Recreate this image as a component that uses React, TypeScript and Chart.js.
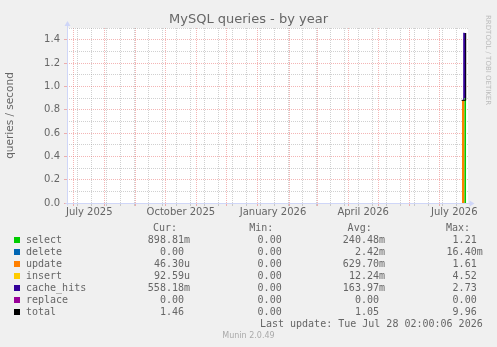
import React, { useEffect, useRef } from "react";
import { Chart, registerables } from "chart.js";

Chart.register(...registerables);

// ---------- data ----------
const chartTitle = "MySQL queries - by year";
const yAxisTitle = "queries / second";

const seriesNames = ["select", "delete", "update", "insert", "cache_hits", "replace"];
const seriesColors = ["#00CC00", "#0066B3", "#FF8000", "#FFCC00", "#330099", "#990099"];
const totalName = "total";
const totalColor = "#000000";

// x = days since 2025-07-01
const sampleDays = [387.6, 388.9, 390.2, 391.9];
const selectValues = [0, 0, 0.899, 0.899];
const deleteValues = [0, 0, 0, 0];
const updateValues = [0.88, 0.88, 0, 0];
const insertValues = [0, 0, 0, 0];
const cacheHitsValues = [0, 0.58, 0.558, 0.558];
const replaceValues = [0, 0, 0, 0];

const totalDays = [387.3, 391.4];
const totalValues = [0.88, 1.457];

// axis
const xMin = -6.7;
const xMax = 393.7;
const yMin = 0;
const yMax = 1.5;
const yStep = 0.1;
const monthStartDays = [0, 31, 62, 92, 123, 153, 184, 215, 243, 274, 304, 335, 365];
const minorGridDays = [
  4.25, 18.25, 32.25, 46.25, 60.25, 74.25, 88.25, 102.25, 116.25, 130.25, 144.25, 158.25,
  172.25, 186.25, 200.25, 214.25, 228.25, 242.25, 256.25, 270.25, 284.25, 298.25, 312.25,
  326.25, 340.25, 354.25, 368.25, 382.25,
];
const xLabelDays = [15.5, 107, 199, 289, 380];
const xLabels = ["July 2025", "October 2025", "January 2026", "April 2026", "July 2026"];

// legend table
const legendNames = ["select", "delete", "update", "insert", "cache_hits", "replace", "total"];
const legendCur = ["898.81m", "0.00", "46.30u", "92.59u", "558.18m", "0.00", "1.46"];
const legendMin = ["0.00", "0.00", "0.00", "0.00", "0.00", "0.00", "0.00"];
const legendAvg = ["240.48m", "2.42m", "629.70m", "12.24m", "163.97m", "0.00", "1.05"];
const legendMax = ["1.21", "16.40m", "1.61", "4.52", "2.73", "0.00", "9.96"];
const legendHeaders = ["Cur:", "Min:", "Avg:", "Max:"];
const lastUpdate = "Last update: Tue Jul 28 02:00:06 2026";
const muninVersion = "Munin 2.0.49";
const watermark = "RRDTOOL / TOBI OETIKER";

// ---------- style ----------
const FONT_COLOR = "#666666";
const AXIS_COLOR = "#CFD6F8";
const GRID_GRAY = "rgba(150,150,150,0.45)";
const GRID_RED = "rgba(230,90,90,0.45)";
const TRANSPARENT = "rgba(0,0,0,0)";

const monthSet = new Set(monthStartDays);
const minorSet = new Set(minorGridDays);

const muninPlugin = {
  id: "muninDecor",
  beforeDraw(chart: any) {
    const { ctx, chartArea: a } = chart;
    ctx.save();
    ctx.fillStyle = "#FFFFFF";
    ctx.fillRect(a.left, a.top, a.right - a.left, a.bottom - a.top);
    ctx.restore();
  },
  afterDraw(chart: any) {
    const { ctx, chartArea: a } = chart;
    ctx.save();
    ctx.strokeStyle = AXIS_COLOR;
    ctx.fillStyle = AXIS_COLOR;
    ctx.lineWidth = 1;
    const ax = Math.round(a.left) + 0.5;
    const ay = Math.round(a.bottom) + 0.5;
    ctx.beginPath();
    ctx.moveTo(ax, ay + 2);
    ctx.lineTo(ax, a.top - 2);
    ctx.moveTo(ax - 2, ay);
    ctx.lineTo(a.right + 2, ay);
    ctx.stroke();
    // up arrow
    ctx.beginPath();
    ctx.moveTo(ax, a.top - 7);
    ctx.lineTo(ax - 3, a.top - 2);
    ctx.lineTo(ax + 3, a.top - 2);
    ctx.closePath();
    ctx.fill();
    // right arrow
    ctx.beginPath();
    ctx.moveTo(a.right + 6.5, ay);
    ctx.lineTo(a.right + 1.5, ay - 3);
    ctx.lineTo(a.right + 1.5, ay + 3);
    ctx.closePath();
    ctx.fill();
    ctx.restore();
  },
};

function unitPad(v: string) {
  return /[a-z]$/.test(v) ? v : v + " ";
}

export default function App() {
  const canvasRef = useRef<HTMLCanvasElement>(null);

  useEffect(() => {
    const canvas = canvasRef.current;
    if (!canvas) return;
    const areaValues = [selectValues, deleteValues, updateValues, insertValues, cacheHitsValues, replaceValues];
    const datasets: any[] = areaValues.map((vals, i) => ({
      label: seriesNames[i],
      data: sampleDays.map((d, j) => ({ x: d, y: vals[j] })),
      backgroundColor: seriesColors[i],
      borderColor: seriesColors[i],
      borderWidth: 0,
      pointRadius: 0,
      stepped: "before",
      fill: i === 0 ? "origin" : "-1",
      stack: "areas",
      order: 1,
    }));
    datasets.push({
      label: totalName,
      data: totalDays.map((d, j) => ({ x: d, y: totalValues[j] })),
      borderColor: totalColor,
      backgroundColor: totalColor,
      borderWidth: 1,
      pointRadius: 0,
      stepped: "before",
      fill: false,
      stack: "total",
      order: 0,
    });

    const chart = new Chart(canvas, {
      type: "line",
      data: { datasets },
      plugins: [muninPlugin],
      options: {
        animation: false,
        responsive: false,
        devicePixelRatio: 1,
        layout: { padding: 0 },
        plugins: {
          legend: { display: false },
          tooltip: { enabled: false },
          title: {
            display: true,
            text: chartTitle,
            color: FONT_COLOR,
            font: { family: "DejaVu Sans", size: 13, weight: "normal", lineHeight: 1.2 },
            padding: { top: 12, bottom: 0.4 },
          },
        },
        scales: {
          x: {
            type: "linear",
            min: xMin,
            max: xMax,
            afterBuildTicks: (scale: any) => {
              const vals = [...monthStartDays, ...minorGridDays, ...xLabelDays].sort((p, q) => p - q);
              scale.ticks = vals.map((v) => ({ value: v }));
            },
            afterFit: (scale: any) => {
              scale.height = 22;
            },
            ticks: {
              autoSkip: false,
              maxRotation: 0,
              minRotation: 0,
              padding: 0,
              color: FONT_COLOR,
              font: { family: "DejaVu Sans", size: 10 },
              callback: (value: any) => {
                const idx = xLabelDays.indexOf(Number(value));
                return idx >= 0 ? xLabels[idx] : "";
              },
            },
            grid: {
              drawOnChartArea: true,
              drawTicks: true,
              tickLength: 3,
              lineWidth: 1,
              color: (ctx: any) => {
                const v = ctx.tick ? ctx.tick.value : NaN;
                if (monthSet.has(v)) return GRID_RED;
                if (minorSet.has(v)) return GRID_GRAY;
                return TRANSPARENT;
              },
              tickColor: (ctx: any) => {
                const v = ctx.tick ? ctx.tick.value : NaN;
                if (monthSet.has(v)) return GRID_RED;
                if (minorSet.has(v)) return GRID_GRAY;
                return TRANSPARENT;
              },
            },
            border: { display: false, dash: [1, 1] },
          },
          y: {
            type: "linear",
            position: "left",
            stacked: true,
            min: yMin,
            max: yMax,
            afterFit: (scale: any) => {
              scale.width = 67;
            },
            ticks: {
              stepSize: yStep,
              autoSkip: false,
              padding: 4,
              color: FONT_COLOR,
              font: { family: "DejaVu Sans", size: 10 },
              callback: (value: any) => {
                const n = Math.round(Number(value) * 10);
                return n % 2 === 0 ? (n / 10).toFixed(1) : "";
              },
            },
            grid: {
              drawTicks: true,
              tickLength: 3,
              lineWidth: 1,
              color: (ctx: any) => {
                const n = Math.round((ctx.tick ? ctx.tick.value : 0) * 10);
                return n % 2 === 0 ? GRID_RED : GRID_GRAY;
              },
              tickColor: (ctx: any) => {
                const n = Math.round((ctx.tick ? ctx.tick.value : 0) * 10);
                return n % 2 === 0 ? GRID_RED : TRANSPARENT;
              },
            },
            border: { display: false, dash: [1, 1] },
            title: {
              display: true,
              text: yAxisTitle,
              color: FONT_COLOR,
              font: { family: "DejaVu Sans", size: 10.5, lineHeight: 1.2 },
              padding: { top: 3.7, bottom: 0 },
            },
          },
          yRight: {
            type: "linear",
            position: "right",
            display: true,
            grid: { display: false },
            ticks: { display: false },
            border: { display: false },
            afterFit: (scale: any) => {
              scale.width = 29;
            },
          },
        },
      } as any,
    });
    return () => chart.destroy();
  }, []);

  const mono: React.CSSProperties = {
    position: "absolute",
    fontFamily: "'DejaVu Sans Mono', monospace",
    fontSize: 10,
    lineHeight: "12px",
    color: FONT_COLOR,
    whiteSpace: "pre",
  };
  const colRights = [190, 287.7, 385, 482.7];
  const headerRights = [177, 273.3, 371.7, 470];
  const cols = [legendCur, legendMin, legendAvg, legendMax];
  const swatchColors = [...seriesColors, totalColor];

  return (
    <div
      style={{
        position: "fixed",
        left: 0,
        top: 0,
        width: 497,
        height: 347,
        background: "#F0F0F0",
        overflow: "hidden",
      }}
    >
      <canvas
        ref={canvasRef}
        width={497}
        height={225}
        style={{ position: "absolute", left: 0, top: 0, width: 497, height: 225 }}
      />
      {legendHeaders.map((h, i) => (
        <div key={"h" + i} style={{ ...mono, top: 222, right: 497 - headerRights[i] }}>
          {h}
        </div>
      ))}
      {legendNames.map((name, r) => (
        <React.Fragment key={name}>
          <div
            style={{
              position: "absolute",
              left: 14,
              top: 237 + r * 12,
              width: 6,
              height: 6,
              background: swatchColors[r],
            }}
          />
          <div style={{ ...mono, left: 26, top: 234 + r * 12 }}>{name}</div>
          {cols.map((col, c) => (
            <div key={c} style={{ ...mono, top: 234 + r * 12, right: 497 - colRights[c] }}>
              {unitPad(col[r])}
            </div>
          ))}
        </React.Fragment>
      ))}
      <div style={{ ...mono, top: 318, right: 497 - 482.7 }}>{lastUpdate}</div>
      <div
        style={{
          position: "absolute",
          left: 0,
          width: 497,
          top: 330.5,
          textAlign: "center",
          fontFamily: "'DejaVu Sans', sans-serif",
          fontSize: 8,
          lineHeight: "10px",
          color: "#AAAAAA",
        }}
      >
        {muninVersion}
      </div>
      <div
        style={{
          position: "absolute",
          left: 484,
          top: 15,
          writingMode: "vertical-rl",
          fontFamily: "'DejaVu Sans', sans-serif",
          fontSize: 7,
          lineHeight: "8px",
          color: "#BBBBBB",
          whiteSpace: "nowrap",
        }}
      >
        {watermark}
      </div>
    </div>
  );
}
